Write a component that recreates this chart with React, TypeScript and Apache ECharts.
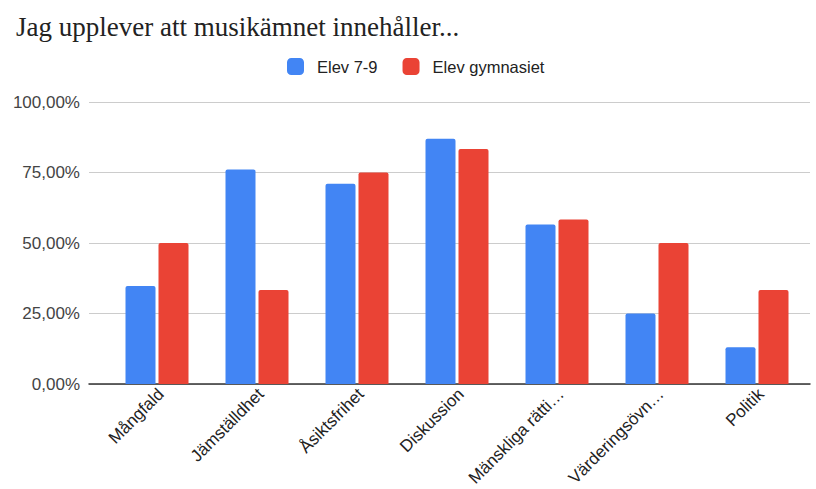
import React, { useEffect, useRef } from "react";
import * as echarts from "echarts";

const categories = [
  "Mångfald",
  "Jämställdhet",
  "Åsiktsfrihet",
  "Diskussion",
  "Mänskliga rätti…",
  "Värderingsövn…",
  "Politik",
];
const elev79 = [34.78, 76.09, 71.0, 86.96, 56.52, 25.0, 13.04];
const elevGymnasiet = [50.0, 33.33, 75.0, 83.33, 58.33, 50.0, 33.33];
const seriesNames = ["Elev 7-9", "Elev gymnasiet"];
const colors = ["#4285F4", "#EA4335"];
const titleText = "Jag upplever att musikämnet innehåller...";

export default function App() {
  const ref = useRef<HTMLDivElement>(null);
  useEffect(() => {
    if (!ref.current) return;
    const chart = echarts.init(ref.current, null, { renderer: "svg" });
    const fmt = (v: number) => v.toFixed(2).replace(".", ",") + "%";
    const hiddenY = (gi: number) => ({
      type: "value",
      gridIndex: gi,
      min: 0,
      max: 100,
      interval: 25,
      axisLine: { show: false },
      axisTick: { show: false },
      splitLine: { show: false },
      axisLabel: { show: false },
    });
    chart.setOption({
      animation: false,
      backgroundColor: "#ffffff",
      title: {
        text: titleText,
        left: 11,
        top: 8,
        textStyle: {
          fontFamily: "Liberation Serif",
          fontSize: 27,
          fontWeight: "normal",
          color: "#222222",
        },
      },
      legend: {
        left: 282,
        top: 53,
        itemWidth: 17,
        itemHeight: 17,
        itemGap: 25,
        icon: "roundRect",
        textStyle: {
          fontFamily: "Liberation Sans",
          fontSize: 16.5,
          color: "#222222",
          padding: [0, 0, 0, 8],
        },
        data: seriesNames,
      },
      grid: [
        { left: 89, right: 6, top: 102, bottom: 105 },
        { left: 107, right: 9, top: 102, bottom: 105 },
        { left: 111, right: 5, top: 102, bottom: 105 },
      ],
      xAxis: [
        {
          type: "category",
          gridIndex: 0,
          data: categories,
          show: true,
          axisLine: { show: true, lineStyle: { color: "#333333", width: 1.5 } },
          axisTick: { show: false },
          axisLabel: { show: false },
        },
        {
          type: "category",
          gridIndex: 1,
          data: categories,
          axisLine: { show: false },
          axisTick: { show: false },
          axisLabel: { show: false },
        },
        {
          type: "category",
          gridIndex: 2,
          data: categories,
          axisLine: { show: false },
          axisTick: { show: false },
          axisLabel: {
            rotate: 45,
            margin: 9,
            fontFamily: "Liberation Sans",
            fontSize: 17,
            color: "#222222",
            interval: 0,
          },
        },
      ],
      yAxis: [
        {
          type: "value",
          gridIndex: 0,
          min: 0,
          max: 100,
          interval: 25,
          axisLine: { show: false },
          axisTick: { show: false },
          splitLine: { lineStyle: { color: "#cccccc", width: 1 } },
          axisLabel: {
            formatter: fmt,
            margin: 9,
            fontFamily: "Liberation Sans",
            fontSize: 17,
            color: "#444444",
          },
        },
        hiddenY(1),
        hiddenY(2),
      ],
      series: [
        {
          name: seriesNames[0],
          type: "bar",
          xAxisIndex: 1,
          yAxisIndex: 1,
          data: elev79,
          barWidth: 30,
          barGap: "10%",
          itemStyle: { color: colors[0], borderRadius: [2, 2, 0, 0] },
        },
        {
          name: seriesNames[1],
          type: "bar",
          xAxisIndex: 1,
          yAxisIndex: 1,
          data: elevGymnasiet,
          barWidth: 30,
          barGap: "10%",
          itemStyle: { color: colors[1], borderRadius: [2, 2, 0, 0] },
        },
      ],
    });
    return () => chart.dispose();
  }, []);
  return (
    <div
      ref={ref}
      style={{ position: "fixed", left: 0, top: 0, width: 816, height: 489 }}
    />
  );
}
